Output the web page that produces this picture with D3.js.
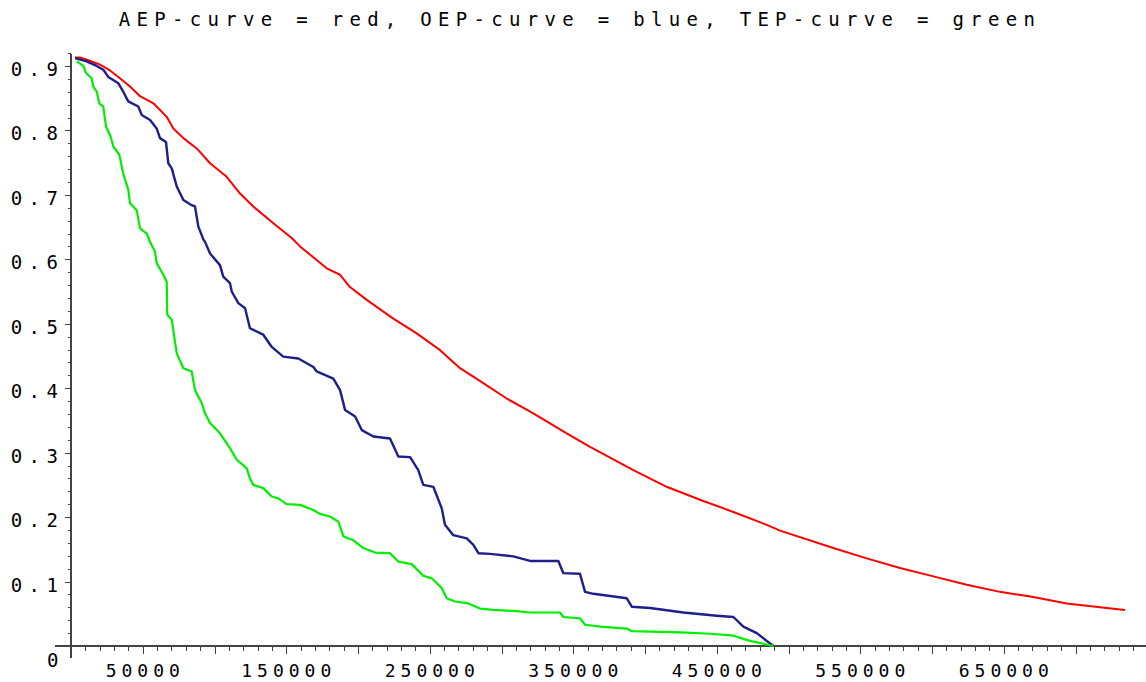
<!DOCTYPE html>
<html>
<head>
<meta charset="utf-8">
<script src="https://cdn.jsdelivr.net/npm/d3@7"></script>
<style>
  body { margin: 0; background: #fff; }
  text { font-family: "DejaVu Sans Mono", "Liberation Mono", monospace; fill: #000; }
</style>
</head>
<body>
<div id="chartContainer"></div>
<script>
var titleText = "AEP-curve = red, OEP-curve = blue, TEP-curve = green";

// AEP curve (red)
var aepLoss = [2800, 6300, 13200, 20200, 27200, 34100, 41100, 48100, 57400, 66700, 71300, 78300, 87600, 96900,
  108500, 117800, 127000, 141000, 153800, 159600, 178200, 187500, 194400, 206100, 224600, 240900, 257200,
  271100, 287300, 303600, 322200, 345400, 361700, 391900, 415100, 438300, 461600, 484800, 494100, 531200,
  554500, 577700, 601000, 624200, 647400, 670600, 693900, 717100, 734500];
var aepProb = [0.913, 0.913, 0.908, 0.902, 0.893, 0.881, 0.868, 0.853, 0.842, 0.821, 0.803, 0.788, 0.772, 0.749,
  0.728, 0.702, 0.682, 0.656, 0.633, 0.620, 0.586, 0.576, 0.557, 0.537, 0.508, 0.485, 0.459,
  0.431, 0.408, 0.384, 0.361, 0.330, 0.309, 0.273, 0.247, 0.227, 0.208, 0.188, 0.179, 0.152,
  0.136, 0.121, 0.108, 0.095, 0.084, 0.076, 0.066, 0.060, 0.056];

// OEP curve (blue)
var oepLoss = [2800, 10900, 17900, 22500, 26000, 33000, 36400, 39900, 46900, 49300, 55100, 59700, 62000, 66200,
  67800, 70200, 73700, 78300, 84100, 86400, 88700, 92200, 93400, 96900, 103800, 106100, 110800, 112000,
  116600, 121300, 124700, 134000, 139900, 147900, 158400, 168900, 171200, 182800, 187500, 191000, 198000,
  202600, 210700, 222300, 228100, 236300, 242000, 245500, 252500, 258300, 260600, 266400, 275800, 280400,
  283900, 292000, 308200, 319900, 339600, 343100, 354700, 358200, 364000, 387300, 390800, 403500, 426700,
  450000, 461600, 468500, 477900, 489400];
var oepProb = [0.912, 0.907, 0.900, 0.894, 0.883, 0.873, 0.860, 0.845, 0.837, 0.824, 0.816, 0.803, 0.788, 0.782,
  0.749, 0.741, 0.713, 0.692, 0.684, 0.682, 0.651, 0.631, 0.627, 0.609, 0.591, 0.573, 0.563, 0.550,
  0.532, 0.524, 0.493, 0.483, 0.464, 0.449, 0.446, 0.433, 0.426, 0.415, 0.397, 0.366, 0.356,
  0.335, 0.325, 0.322, 0.294, 0.293, 0.273, 0.250, 0.247, 0.214, 0.188, 0.172, 0.167, 0.157,
  0.144, 0.143, 0.139, 0.132, 0.132, 0.113, 0.112, 0.084, 0.081, 0.074, 0.061, 0.059, 0.052,
  0.047, 0.045, 0.030, 0.020, 0.0];

// TEP curve (green)
var tepLoss = [4000, 8600, 10500, 14400, 15500, 17900, 19700, 22500, 24400, 27200, 29500, 33700, 36400, 39900,
  41100, 45800, 48100, 52800, 55100, 58500, 59700, 64300, 66700, 67100, 70200, 73700, 78300, 84100,
  86400, 91100, 93400, 96900, 103800, 110800, 115500, 122400, 124700, 127000, 134000, 139900, 144500,
  150300, 159600, 168900, 173500, 180500, 186300, 189800, 196800, 203700, 211900, 222300, 228100, 237400,
  245500, 251400, 258300, 261800, 267600, 276900, 285000, 294300, 310600, 319900, 340800, 343100, 354700,
  358200, 368700, 387300, 390800, 424700, 445300, 461600, 473200, 489400];
var tepProb = [0.907, 0.900, 0.889, 0.881, 0.868, 0.860, 0.842, 0.837, 0.806, 0.793, 0.775, 0.762, 0.733, 0.708,
  0.687, 0.676, 0.648, 0.640, 0.627, 0.612, 0.594, 0.576, 0.565, 0.514, 0.506, 0.454, 0.431, 0.426,
  0.397, 0.377, 0.361, 0.346, 0.330, 0.307, 0.289, 0.276, 0.260, 0.250, 0.245, 0.232, 0.229,
  0.220, 0.219, 0.211, 0.205, 0.201, 0.193, 0.170, 0.164, 0.152, 0.145, 0.144, 0.131, 0.127,
  0.109, 0.105, 0.090, 0.074, 0.069, 0.066, 0.058, 0.056, 0.054, 0.052, 0.052, 0.045, 0.043,
  0.033, 0.030, 0.027, 0.023, 0.021, 0.019, 0.016, 0.008, 0.0];

var xLabelValues = [50000, 150000, 250000, 350000, 450000, 550000, 650000];
var yLabelValues = [0.1, 0.2, 0.3, 0.4, 0.5, 0.6, 0.7, 0.8, 0.9];

var W = 1146, H = 682;
var svg = d3.select("#chartContainer").append("svg")
  .attr("width", W).attr("height", H);

var x = d3.scaleLinear().domain([0, 748000]).range([71, 1144.4]);
var y = d3.scaleLinear().domain([0, 0.919]).range([646, 53.7]);

svg.append("text")
  .attr("x", 577 + 3)
  .attr("y", 26)
  .attr("text-anchor", "middle")
  .style("font-size", "19px")
  .style("letter-spacing", "6.3px")
  .text(titleText);

var axisColor = "#444";

// y axis line + ticks
svg.append("line")
  .attr("x1", x(0)).attr("x2", x(0))
  .attr("y1", y(0.919)).attr("y2", y(0) + 12)
  .attr("stroke", axisColor).attr("stroke-width", 2);

var yMinor = d3.range(0.02, 0.93, 0.02);
svg.selectAll("line.yminor").data(yMinor).enter().append("line")
  .attr("class", "yminor")
  .attr("x1", x(0) - 3).attr("x2", x(0))
  .attr("y1", function(d){ return Math.round(y(d)) + 0.5; })
  .attr("y2", function(d){ return Math.round(y(d)) + 0.5; })
  .attr("stroke", axisColor).attr("stroke-width", 1);

svg.selectAll("line.ymajor").data(yLabelValues).enter().append("line")
  .attr("class", "ymajor")
  .attr("x1", x(0) - 6).attr("x2", x(0))
  .attr("y1", function(d){ return Math.round(y(d)) + 0.5; })
  .attr("y2", function(d){ return Math.round(y(d)) + 0.5; })
  .attr("stroke", axisColor).attr("stroke-width", 1);

svg.selectAll("text.ylab").data(yLabelValues).enter().append("text")
  .attr("class", "ylab")
  .attr("x", 58 + 6.5)
  .attr("y", function(d){ return y(d) + 10; })
  .attr("text-anchor", "end")
  .style("font-size", "19px")
  .style("letter-spacing", "6.5px")
  .text(function(d){ return d3.format(".1f")(d); });

// x axis line + ticks
svg.append("line")
  .attr("x1", x(0) - 16).attr("x2", W)
  .attr("y1", y(0)).attr("y2", y(0))
  .attr("stroke", axisColor).attr("stroke-width", 2);

var xMinor = d3.range(10000, 745000, 10000);
svg.selectAll("line.xminor").data(xMinor).enter().append("line")
  .attr("class", "xminor")
  .attr("x1", function(d){ return Math.round(x(d)) + 0.5; })
  .attr("x2", function(d){ return Math.round(x(d)) + 0.5; })
  .attr("y1", y(0)).attr("y2", function(d){ return d % 50000 === 0 ? y(0) + 8 : y(0) + 5; })
  .attr("stroke", axisColor).attr("stroke-width", 1);

svg.selectAll("text.xlab").data(xLabelValues).enter().append("text")
  .attr("class", "xlab")
  .attr("x", function(d){ return x(d) + 2.5; })
  .attr("y", 677)
  .attr("text-anchor", "middle")
  .style("font-size", "18px")
  .style("letter-spacing", "5px")
  .text(function(d){ return d; });

svg.append("text")
  .attr("x", 47)
  .attr("y", 667)
  .style("font-size", "19px")
  .text("0");

// curves
var curves = [
  { loss: aepLoss, prob: aepProb, color: "#ff0000", w: 2 },
  { loss: oepLoss, prob: oepProb, color: "#1e1e8c", w: 2.4 },
  { loss: tepLoss, prob: tepProb, color: "#00ee00", w: 2.2 }
];

var line = d3.line()
  .x(function(d){ return x(d[0]); })
  .y(function(d){ return y(d[1]); });

curves.forEach(function(c){
  var pts = d3.zip(c.loss, c.prob);
  svg.append("path")
    .datum(pts)
    .attr("d", line)
    .attr("fill", "none")
    .attr("stroke", c.color)
    .attr("stroke-width", c.w)
    .attr("stroke-linejoin", "round");
});
</script>
</body>
</html>
